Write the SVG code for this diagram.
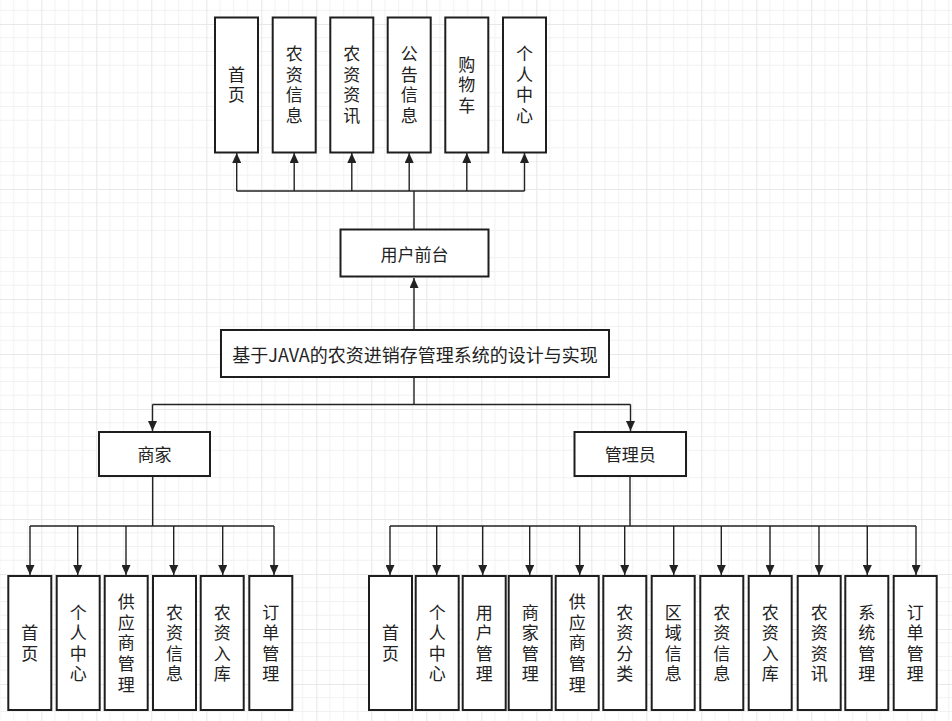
<svg xmlns="http://www.w3.org/2000/svg" width="952" height="721" viewBox="0 0 952 721">
<defs>
<style>
.box{fill:#fff;stroke:#1e1e1e;stroke-width:2}
.t{font-family:"Noto Sans CJK SC","Liberation Sans",sans-serif;font-size:17px;fill:#222;text-anchor:middle;dominant-baseline:central}
.v{font-family:"Noto Sans CJK SC",sans-serif;font-size:17px;fill:#222;text-anchor:middle;writing-mode:vertical-rl;letter-spacing:3.6px}
.c{fill:none;stroke:#222;stroke-width:1.4}
.a{fill:none;stroke:#222;stroke-width:1.4;marker-end:url(#arr)}
</style>
<marker id="arr" markerUnits="userSpaceOnUse" markerWidth="11" markerHeight="9" refX="10" refY="4.5" orient="auto">
<path d="M0,0 L10,4.5 L0,9 Z" fill="#222"/>
</marker>
<pattern id="grid" patternUnits="userSpaceOnUse" x="41.25" y="24" width="55" height="55">
<path d="M13.75,0V55M27.5,0V55M41.25,0V55M0,13.75H55M0,27.5H55M0,41.25H55" stroke="#f1f1f1" stroke-width="1" fill="none"/>
<path d="M0.5,0V55M0,0.5H55" stroke="#e8e8e8" stroke-width="1.2" fill="none"/>
</pattern>
</defs>
<rect width="952" height="721" fill="#fff"/>
<rect width="952" height="721" fill="url(#grid)"/>

<g id="connectors">
<path class="c" d="M414,229V191M236.7,191H524.5"/>
<path class="a" d="M236.7,191V153"/>
<path class="a" d="M294.2,191V153"/>
<path class="a" d="M351.8,191V153"/>
<path class="a" d="M409.2,191V153"/>
<path class="a" d="M466.8,191V153"/>
<path class="a" d="M524.5,191V153"/>
<path class="a" d="M414,330V278"/>
<path class="c" d="M414,377V404.5M152.5,404.5H630.5"/>
<path class="a" d="M152.5,404.5V431"/>
<path class="a" d="M630.5,404.5V431"/>
<path class="c" d="M152.7,476V526M30,526H274"/>
<path class="a" d="M30,526V575"/>
<path class="a" d="M77.7,526V575"/>
<path class="a" d="M126,526V575"/>
<path class="a" d="M173.7,526V575"/>
<path class="a" d="M222.7,526V575"/>
<path class="a" d="M274,526V575"/>
<path class="c" d="M630,476V526M390,526H916"/>
<path class="a" d="M390,526V575"/>
<path class="a" d="M436.7,526V575"/>
<path class="a" d="M482.7,526V575"/>
<path class="a" d="M529.7,526V575"/>
<path class="a" d="M579.7,526V575"/>
<path class="a" d="M624.7,526V575"/>
<path class="a" d="M673.7,526V575"/>
<path class="a" d="M721.3,526V575"/>
<path class="a" d="M770,526V575"/>
<path class="a" d="M819,526V575"/>
<path class="a" d="M867.3,526V575"/>
<path class="a" d="M916,526V575"/>
</g>

<g id="root"><rect class="box" x="221" y="330" width="388" height="47"/><text class="t" x="415" y="353.5" style="font-size:18px">基于JAVA的农资进销存管理系统的设计与实现</text></g>
<g id="front"><rect class="box" x="340.5" y="229.5" width="148" height="47"/><text class="t" x="414.5" y="253">用户前台</text></g>
<g id="merchant"><rect class="box" x="99" y="432" width="111" height="44"/><text class="t" x="154.5" y="453.5">商家</text></g>
<g id="admin"><rect class="box" x="574.5" y="432" width="111.5" height="44"/><text class="t" x="630.2" y="453.5">管理员</text></g>

<g id="f1"><rect class="box" x="215" y="17.5" width="43" height="135"/><text class="v" x="236.5" y="86.5">首页</text></g>
<g id="f2"><rect class="box" x="272.7" y="17.5" width="43" height="135"/><text class="v" x="294.2" y="86.5">农资信息</text></g>
<g id="f3"><rect class="box" x="330.3" y="17.5" width="43" height="135"/><text class="v" x="351.8" y="86.5">农资资讯</text></g>
<g id="f4"><rect class="box" x="387.7" y="17.5" width="43" height="135"/><text class="v" x="409.2" y="86.5">公告信息</text></g>
<g id="f5"><rect class="box" x="445.3" y="17.5" width="43" height="135"/><text class="v" x="466.8" y="86.5">购物车</text></g>
<g id="f6"><rect class="box" x="503" y="17.5" width="43" height="135"/><text class="v" x="524.5" y="86.5">个人中心</text></g>

<g id="m1"><rect class="box" x="8.3" y="576" width="43" height="134"/><text class="v" x="29.8" y="644.8">首页</text></g>
<g id="m2"><rect class="box" x="56.7" y="576" width="43" height="134"/><text class="v" x="78.2" y="644.8">个人中心</text></g>
<g id="m3"><rect class="box" x="104.7" y="576" width="43" height="134"/><text class="v" x="126.2" y="644.8">供应商管理</text></g>
<g id="m4"><rect class="box" x="153" y="576" width="43" height="134"/><text class="v" x="174.5" y="644.8">农资信息</text></g>
<g id="m5"><rect class="box" x="200.7" y="576" width="43" height="134"/><text class="v" x="222.2" y="644.8">农资入库</text></g>
<g id="m6"><rect class="box" x="249.3" y="576" width="43" height="134"/><text class="v" x="270.8" y="644.8">订单管理</text></g>

<g id="a1"><rect class="box" x="369" y="576" width="43" height="134"/><text class="v" x="390.5" y="644.8">首页</text></g>
<g id="a2"><rect class="box" x="415.7" y="576" width="43" height="134"/><text class="v" x="437.2" y="644.8">个人中心</text></g>
<g id="a3"><rect class="box" x="462.7" y="576" width="43" height="134"/><text class="v" x="484.2" y="644.8">用户管理</text></g>
<g id="a4"><rect class="box" x="508.7" y="576" width="43" height="134"/><text class="v" x="530.2" y="644.8">商家管理</text></g>
<g id="a5"><rect class="box" x="555.7" y="576" width="43" height="134"/><text class="v" x="577.2" y="644.8">供应商管理</text></g>
<g id="a6"><rect class="box" x="603.3" y="576" width="43" height="134"/><text class="v" x="624.8" y="644.8">农资分类</text></g>
<g id="a7"><rect class="box" x="651.7" y="576" width="43" height="134"/><text class="v" x="673.2" y="644.8">区域信息</text></g>
<g id="a8"><rect class="box" x="700.3" y="576" width="43" height="134"/><text class="v" x="721.8" y="644.8">农资信息</text></g>
<g id="a9"><rect class="box" x="748.7" y="576" width="43" height="134"/><text class="v" x="770.2" y="644.8">农资入库</text></g>
<g id="a10"><rect class="box" x="797.7" y="576" width="43" height="134"/><text class="v" x="819.2" y="644.8">农资资讯</text></g>
<g id="a11"><rect class="box" x="845.3" y="576" width="43" height="134"/><text class="v" x="866.8" y="644.8">系统管理</text></g>
<g id="a12"><rect class="box" x="893.7" y="576" width="43" height="134"/><text class="v" x="915.2" y="644.8">订单管理</text></g>
</svg>
